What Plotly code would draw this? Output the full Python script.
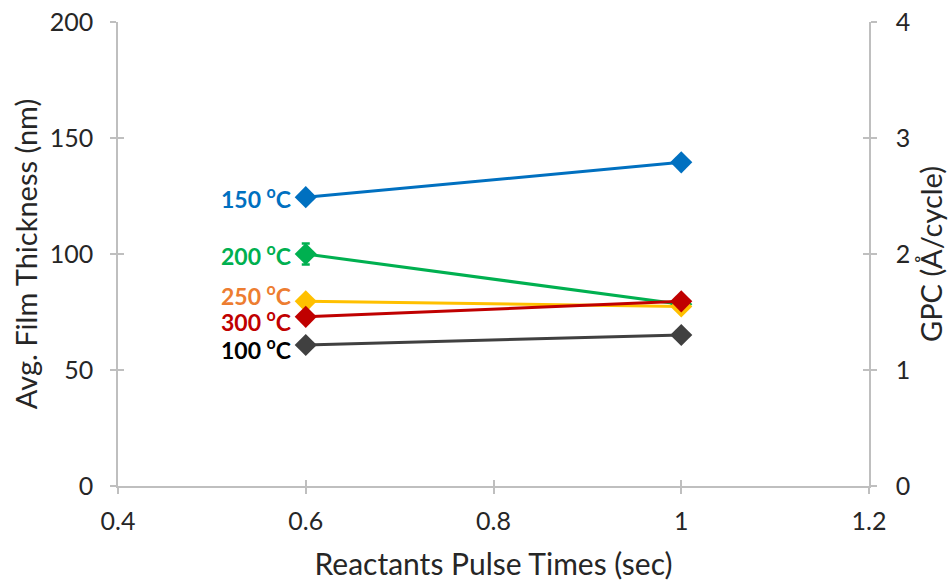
import plotly.graph_objects as go

# Reactant pulse times (sec)
pulse_times = [0.6, 1.0]

# Average film thickness (nm) at each deposition temperature
temps = ["150", "200", "250", "300", "100"]
thick_150 = [124.5, 139.5]
thick_200 = [100.0, 78.3]
thick_250 = [79.6, 77.4]
thick_300 = [72.9, 79.6]
thick_100 = [60.8, 65.1]
err_200 = [4.5, 0.0]

line_colors = ["#0070C0", "#00B050", "#FFC000", "#C00000", "#404040"]
label_colors = ["#0070C0", "#00B050", "#ED7D31", "#C00000", "#000000"]
label_nudge = [0, 0, 7, -4, -4]  # vertical pixel offsets keeping close labels apart
series = [thick_150, thick_200, thick_250, thick_300, thick_100]

# Axis ranges and ticks
x_range = [0.4, 1.2]
x_ticks = [0.4, 0.6, 0.8, 1.0, 1.2]
x_ticktext = ["0.4", "0.6", "0.8", "1", "1.2"]
thick_range = [0, 200]
thick_ticks = [0, 50, 100, 150, 200]
gpc_range = [0, 4]
gpc_ticks = [0, 1, 2, 3, 4]

FONT = "Lato, Open Sans, sans-serif"
TEXT = "#262626"
AXIS = "#BFBFBF"

fig = go.Figure()

for t, ys, lc in zip(temps, series, line_colors):
    err = (dict(type="data", array=err_200, visible=True, color=lc, thickness=2.5, width=4)
           if t == "200" else None)
    fig.add_trace(go.Scatter(
        x=pulse_times, y=ys, mode="lines+markers",
        line=dict(color=lc, width=3),
        marker=dict(symbol="diamond", size=17, color=lc),
        error_y=err, showlegend=False, name=t + " °C",
    ))

# invisible carriers so the secondary and tick-only axes are rendered
for xa, ya in [("x", "y2"), ("x2", "y3"), ("x2", "y4")]:
    fig.add_trace(go.Scatter(x=[x_range[0]], y=[0], xaxis=xa, yaxis=ya, mode="markers",
                             marker=dict(opacity=0), showlegend=False, hoverinfo="skip"))

for t, ys, c, dy in zip(temps, series, label_colors, label_nudge):
    fig.add_annotation(x=pulse_times[0], y=ys[0], xref="x", yref="y",
                       text=f"<b>{t} <sup>o</sup>C</b>", showarrow=False,
                       xanchor="right", yanchor="middle", xshift=-13, yshift=dy,
                       font=dict(family=FONT, size=23, color=c))

tick_font = dict(family=FONT, size=25, color=TEXT)
title_font = dict(family=FONT, size=29, color=TEXT)
base = dict(showgrid=False, zeroline=False, tickcolor=AXIS, tickwidth=1.5, ticklen=6,
            automargin=False)

fig.update_layout(
    width=950, height=582,
    margin=dict(l=118, r=81, t=22, b=96),
    plot_bgcolor="white", paper_bgcolor="white",
    xaxis=dict(range=x_range, tickvals=x_ticks, ticktext=x_ticktext, ticks="outside",
               showline=True, linecolor=AXIS, linewidth=1.5, tickfont=tick_font,
               ticklabelstandoff=6,
               title=dict(text="Reactants Pulse Times (sec)", standoff=20,
                          font=dict(family=FONT, size=30, color=TEXT)),
               **base),
    xaxis2=dict(range=x_range, tickvals=x_ticks, ticks="inside", showticklabels=False,
                overlaying="x", anchor="y", showline=False, **base),
    yaxis=dict(range=thick_range, tickvals=thick_ticks, ticks="outside",
               showline=True, linecolor=AXIS, linewidth=1.5, tickfont=tick_font,
               ticklabelstandoff=12,
               title=dict(text="Avg. Film Thickness (nm)", standoff=4, font=title_font),
               **base),
    yaxis3=dict(range=thick_range, tickvals=thick_ticks, ticks="inside", showticklabels=False,
                overlaying="y", anchor="x", side="left", showline=False, **base),
    yaxis2=dict(range=gpc_range, tickvals=gpc_ticks, ticks="outside", overlaying="y",
                side="right", anchor="x", showline=True, linecolor=AXIS, linewidth=1.5,
                tickfont=tick_font, ticklabelstandoff=14,
                title=dict(text="GPC (Å/cycle)", standoff=12, font=title_font),
                **base),
    yaxis4=dict(range=gpc_range, tickvals=gpc_ticks, ticks="inside", showticklabels=False,
                overlaying="y", side="right", anchor="x", showline=False, **base),
)

fig.write_html("out.html")
